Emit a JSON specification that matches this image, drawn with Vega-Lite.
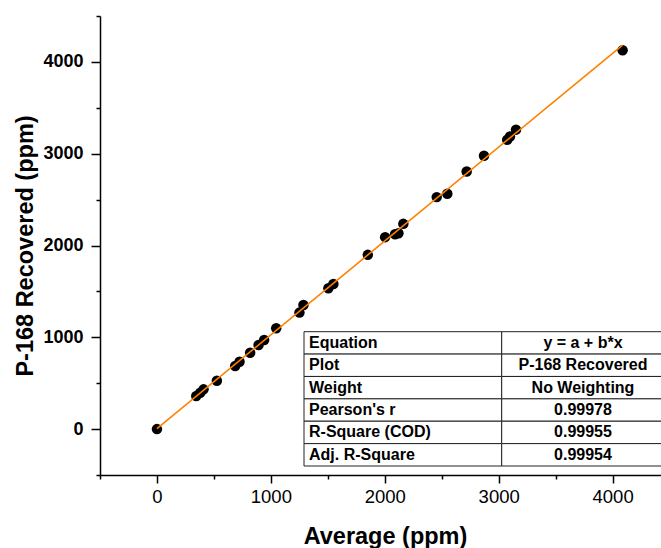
{
  "$schema": "https://vega.github.io/schema/vega-lite/v6.json",
  "width": 561,
  "height": 459,
  "autosize": {"type": "none"},
  "padding": {"left": 100, "top": 16, "right": 0, "bottom": 73},
  "background": "white",
  "config": {
    "view": {"stroke": null},
    "font": "Liberation Sans",
    "axis": {"grid": false, "domainColor": "black", "domainWidth": 1.5, "tickColor": "black", "tickWidth": 1.5, "labelColor": "black", "titleColor": "black", "labelFont": "Liberation Sans", "titleFont": "Liberation Sans"}
  },
  "datasets": {
    "points": [
      {"Average": 0, "Recovered": 0},
      {"Average": 345, "Recovered": 360},
      {"Average": 380, "Recovered": 396},
      {"Average": 409, "Recovered": 433},
      {"Average": 526, "Recovered": 527},
      {"Average": 687, "Recovered": 687},
      {"Average": 725, "Recovered": 734},
      {"Average": 818, "Recovered": 832},
      {"Average": 892, "Recovered": 916},
      {"Average": 941, "Recovered": 971},
      {"Average": 1047, "Recovered": 1098},
      {"Average": 1251, "Recovered": 1269},
      {"Average": 1286, "Recovered": 1352},
      {"Average": 1505, "Recovered": 1534},
      {"Average": 1549, "Recovered": 1581},
      {"Average": 1851, "Recovered": 1898},
      {"Average": 2003, "Recovered": 2091},
      {"Average": 2090, "Recovered": 2123},
      {"Average": 2120, "Recovered": 2134},
      {"Average": 2163, "Recovered": 2236},
      {"Average": 2456, "Recovered": 2527},
      {"Average": 2549, "Recovered": 2563},
      {"Average": 2719, "Recovered": 2806},
      {"Average": 2871, "Recovered": 2977},
      {"Average": 3075, "Recovered": 3152},
      {"Average": 3099, "Recovered": 3188},
      {"Average": 3152, "Recovered": 3262},
      {"Average": 4088, "Recovered": 4127}
    ],
    "table": [
      {"label": "Equation", "value": "y = a + b*x"},
      {"label": "Plot", "value": "P-168 Recovered"},
      {"label": "Weight", "value": "No Weighting"},
      {"label": "Pearson's r", "value": "0.99978"},
      {"label": "R-Square (COD)", "value": "0.99955"},
      {"label": "Adj. R-Square", "value": "0.99954"}
    ]
  },
  "layer": [
    {
      "data": {"name": "points"},
      "encoding": {
        "x": {
          "field": "Average", "type": "quantitative",
          "scale": {"domain": [-500, 4425], "nice": false, "zero": false},
          "axis": {
            "title": "Average (ppm)",
            "values": [-500, 0, 500, 1000, 1500, 2000, 2500, 3000, 3500, 4000],
            "format": "d",
            "labelExpr": "datum.value % 1000 == 0 ? datum.label : ''",
            "tickSize": {"condition": {"test": "datum.value % 1000 == 0", "value": 8}, "value": 4},
            "labelFontSize": 18.5,
            "labelFontWeight": "normal",
            "labelPadding": 4,
            "labelFlush": false,
            "labelOverlap": false,
            "titleFontSize": 23.5,
            "titleFontWeight": "bold",
            "titleBaseline": "alphabetic",
            "titleX": 285,
            "titleY": 68
          }
        },
        "y": {
          "field": "Recovered", "type": "quantitative",
          "scale": {"domain": [-500, 4500], "nice": false, "zero": false},
          "axis": {
            "title": "P-168 Recovered (ppm)",
            "values": [-500, 0, 500, 1000, 1500, 2000, 2500, 3000, 3500, 4000, 4500],
            "format": "d",
            "labelExpr": "datum.value % 1000 == 0 ? datum.label : ''",
            "tickSize": {"condition": {"test": "datum.value % 1000 == 0", "value": 9}, "value": 4},
            "labelFontSize": 18,
            "labelFontWeight": "bold",
            "labelPadding": 8,
            "labelFlush": false,
            "labelOverlap": false,
            "titleFontSize": 23.5,
            "titleFontWeight": "bold",
            "titleAngle": -90,
            "titleBaseline": "alphabetic",
            "titleAlign": "center",
            "titleX": -67.5,
            "titleY": 229.5
          }
        }
      },
      "layer": [
        {"mark": {"type": "circle", "size": 110, "color": "black", "opacity": 1}},
        {
          "transform": [{"regression": "Recovered", "on": "Average"}],
          "mark": {"type": "line", "color": "#FF8000", "strokeWidth": 1.6}
        }
      ]
    },
    {
      "data": {"name": "table"},
      "encoding": {
        "y": {
          "field": "label", "type": "nominal", "sort": null,
          "scale": {"range": [315.7, 450], "paddingInner": 0, "paddingOuter": 0},
          "axis": null
        }
      },
      "layer": [
        {
          "mark": {"type": "rect", "fill": "white", "stroke": "#222222", "strokeWidth": 1},
          "encoding": {
            "x": {"datum": 0, "type": "quantitative", "scale": {"domain": [-1.0319, 1.8057], "nice": false, "zero": false}, "axis": null},
            "x2": {"datum": 1}
          }
        },
        {
          "mark": {"type": "rect", "fill": "white", "stroke": "#222222", "strokeWidth": 1},
          "encoding": {
            "x": {"datum": 1, "type": "quantitative"},
            "x2": {"datum": 1.83}
          }
        },
        {
          "mark": {"type": "text", "align": "left", "baseline": "middle", "dx": 5, "fontSize": 16, "fontWeight": "bold", "color": "black"},
          "encoding": {
            "x": {"datum": 0, "type": "quantitative"},
            "text": {"field": "label"}
          }
        },
        {
          "mark": {"type": "text", "align": "center", "baseline": "middle", "fontSize": 16, "fontWeight": "bold", "color": "black"},
          "encoding": {
            "x": {"datum": 1.411, "type": "quantitative"},
            "text": {"field": "value"}
          }
        }
      ]
    }
  ],
  "resolve": {"scale": {"x": "independent", "y": "independent"}}
}
